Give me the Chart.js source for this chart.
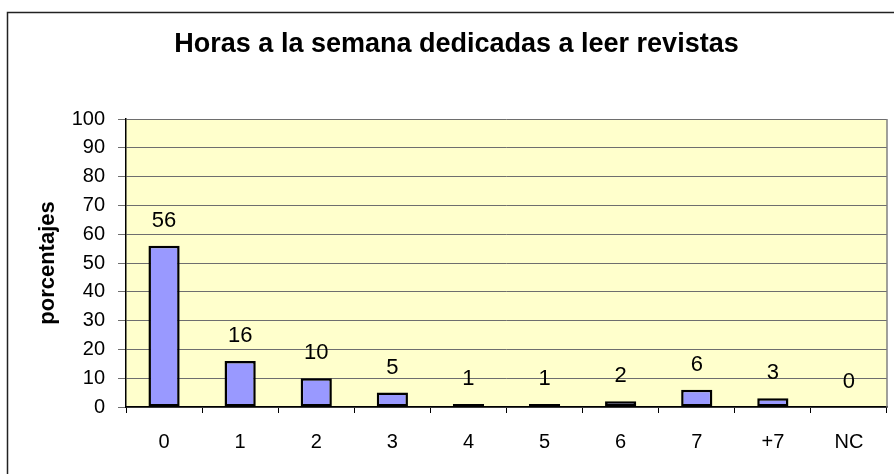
<!DOCTYPE html>
<html>
<head>
<meta charset="utf-8">
<script src="https://cdn.jsdelivr.net/npm/chart.js@4"></script>
<style>
html,body{margin:0;padding:0;background:#fff;}
#wrap{width:894px;height:474px;position:relative;}
</style>
</head>
<body>
<div id="wrap"><canvas id="c" width="894" height="474"></canvas></div>
<script>
const categories = ['0','1','2','3','4','5','6','7','+7','NC'];
const values = [56,16,10,5,1,1,2,6,3,0];
const yTicks = [0,10,20,30,40,50,60,70,80,90,100];
const titleText = 'Horas a la semana dedicadas a leer revistas';
const yTitle = 'porcentajes';

const FONT = '"Liberation Sans", Arial, Helvetica, sans-serif';

const bgPlugin = {
  id: 'bg',
  beforeDraw(chart) {
    const {ctx, chartArea: a} = chart;
    ctx.save();
    ctx.fillStyle = '#FFFFCC';
    ctx.fillRect(a.left, a.top, a.right - a.left, a.bottom - a.top);
    ctx.restore();
  },
  afterDraw(chart) {
    const {ctx, chartArea: a} = chart;
    ctx.save();
    ctx.strokeStyle = '#808080';
    ctx.lineWidth = 1.5;
    ctx.beginPath();
    ctx.moveTo(a.right, a.top);
    ctx.lineTo(a.right, a.bottom);
    ctx.stroke();
    // outer frame
    ctx.strokeStyle = '#222';
    ctx.lineWidth = 1.5;
    ctx.beginPath();
    ctx.moveTo(7.5, 480);
    ctx.lineTo(7.5, 12.5);
    ctx.lineTo(900, 12.5);
    ctx.stroke();
    ctx.restore();
  }
};

const labelPlugin = {
  id: 'vlabels',
  afterDatasetsDraw(chart) {
    const {ctx} = chart;
    const meta = chart.getDatasetMeta(0);
    ctx.save();
    ctx.fillStyle = '#000';
    ctx.font = '22px ' + FONT;
    ctx.textAlign = 'center';
    ctx.textBaseline = 'middle';
    meta.data.forEach((bar, i) => {
      ctx.fillText(String(chart.data.datasets[0].data[i]), bar.x, bar.y - 25);
    });
    ctx.restore();
  }
};

new Chart(document.getElementById('c'), {
  type: 'bar',
  data: {
    labels: categories,
    datasets: [{
      data: values,
      backgroundColor: '#9999FF',
      borderColor: '#000',
      borderWidth: 2.5,
      borderSkipped: false,
      barPercentage: 0.41,
      categoryPercentage: 1
    }]
  },
  options: {
    responsive: false,
    animation: false,
    devicePixelRatio: 1,
    layout: {padding: {left: 26, right: 7, top: 0, bottom: 0}},
    plugins: {
      legend: {display: false},
      tooltip: {enabled: false},
      title: {
        display: true,
        text: titleText,
        color: '#000',
        font: {family: FONT, size: 27, weight: 'bold'},
        padding: {top: 28, bottom: 58.6}
      }
    },
    scales: {
      x: {
        offset: true,
        grid: {display: true, drawOnChartArea: false, drawTicks: true, tickLength: 6, color: '#000', lineWidth: 1},
        border: {display: true, color: '#000', width: 1.5},
        ticks: {color: '#000', font: {family: FONT, size: 20}, padding: 17, maxRotation: 0},
        afterFit(s) { s.height = 67; }
      },
      y: {
        min: 0, max: 100,
        afterBuildTicks(s) { s.ticks = yTicks.map(v => ({value: v})); },
        grid: {color: '#6e6e6e', lineWidth: 1, tickLength: 8, drawTicks: true},
        border: {display: true, color: '#000', width: 1.5},
        ticks: {color: '#000', font: {family: FONT, size: 20}, padding: 13},
        title: {display: true, text: yTitle, color: '#000', font: {family: FONT, size: 22, weight: 'bold'}, padding: {top: 9, bottom: 0}},
        afterFit(s) { s.width = 100; }
      }
    }
  },
  plugins: [bgPlugin, labelPlugin]
});
</script>
</body>
</html>
